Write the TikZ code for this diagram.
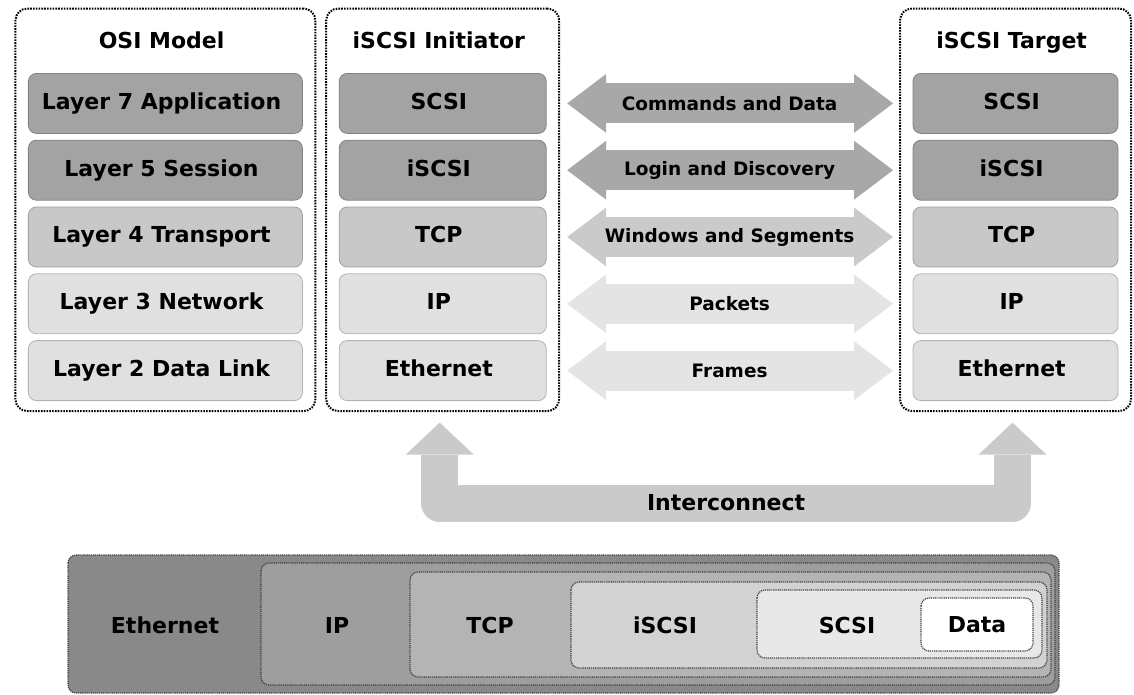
\documentclass[tikz,border=0pt]{standalone}
\usepackage{fontspec}
\setmainfont{DejaVu Sans}
\usetikzlibrary{matrix,fit,calc,arrows.meta}

\definecolor{rowdk}{RGB}{163,163,163}
\definecolor{rowmd}{RGB}{200,200,200}
\definecolor{rowlt}{RGB}{224,224,224}
\definecolor{arrdk}{RGB}{168,168,168}
\definecolor{arrmd}{RGB}{202,202,202}
\definecolor{arrlt}{RGB}{228,228,228}
\definecolor{ethc}{RGB}{137,137,137}
\definecolor{ipc}{RGB}{158,158,158}
\definecolor{tcpc}{RGB}{180,180,180}
\definecolor{iscsic}{RGB}{210,210,210}
\definecolor{scsic}{RGB}{232,232,232}

\tikzset{
  layer/.style={draw=#1!80!black, fill=#1, rounded corners=8pt, line width=0.8pt},
  ttl/.style={minimum height=48pt},
  stack/.style={draw=black, line width=2pt, dash pattern=on 1.6pt off 1.2pt,
                rounded corners=12pt, inner xsep=13pt, inner ysep=10.5pt},
  pipe/.style={draw=#1, line width=40pt, line cap=butt,
               arrows={Triangle[length=39pt,width=59pt,line width=0pt]-Triangle[length=39pt,width=59pt,line width=0pt]},
               shorten <=21pt, shorten >=20pt},
  lbl/.style={font=\fontsize{18.5}{21}\selectfont\bfseries},
  wire/.style={draw=arrmd, line width=37pt, line join=round,
               arrows={Triangle[length=32pt,width=68pt,line width=0pt]-Triangle[length=32pt,width=68pt,line width=0pt]}},
  enc/.style={draw=black!75, line width=1.2pt, dash pattern=on 1.2pt off 0.9pt, rounded corners=8pt}
}

\begin{document}
\begin{tikzpicture}[x=1pt, y=-1pt, font=\fontsize{22}{26}\selectfont\bfseries]
  \useasboundingbox (0,0) rectangle (1134,694);
  \matrix (stk) [matrix of nodes, ampersand replacement=\&, anchor=north west,
          inner sep=0pt, outer sep=0pt, row sep=6pt, column sep=36pt,
          nodes={minimum height=60pt, inner sep=0pt, align=center, anchor=center,
                 execute at begin node={\vphantom{Ly}}},
          column 1/.style={nodes={minimum width=274pt}},
          column 2/.style={nodes={minimum width=207pt}},
          column 3/.style={nodes={minimum width=205pt}}] at (28,19) {
    |[ttl]| OSI Model \& |[ttl]| iSCSI Initiator \&[330pt] |[ttl]| iSCSI Target \\
    |[layer=rowdk]| Layer 7 Application \& |[layer=rowdk]| SCSI \& |[layer=rowdk]| SCSI \\
    |[layer=rowdk]| Layer 5 Session \& |[layer=rowdk]| iSCSI \& |[layer=rowdk]| iSCSI \\
    |[layer=rowmd]| Layer 4 Transport \& |[layer=rowmd]| TCP \& |[layer=rowmd]| TCP \\
    |[layer=rowlt]| Layer 3 Network \& |[layer=rowlt]| IP \& |[layer=rowlt]| IP \\
    |[layer=rowlt]| Layer 2 Data Link \& |[layer=rowlt]| Ethernet \& |[layer=rowlt]| Ethernet \\
  };

  % dotted frames round the three stacks
  \node[stack, fit=(stk-1-1)(stk-6-1)] (osi) {};
  \node[stack, fit=(stk-1-2)(stk-6-2)] (ini) {};
  \node[stack, fit=(stk-1-3)(stk-6-3)] (tgt) {};

  % initiator <-> target
  \draw[pipe=arrdk] (stk-2-2) -- (stk-2-3) node[midway, lbl] (cmd) {Commands and Data};
  \draw[pipe=arrdk] (stk-3-2) -- (stk-3-3) node[midway, lbl] (login) {Login and Discovery};
  \draw[pipe=arrmd] (stk-4-2) -- (stk-4-3) node[midway, lbl] (seg) {Windows and Segments};
  \draw[pipe=arrlt] (stk-5-2) -- (stk-5-3) node[midway, lbl] (pkt) {Packets};
  \draw[pipe=arrlt] (stk-6-2) -- (stk-6-3) node[midway, lbl] (frm) {Frames};

  % interconnect
  \coordinate (ia) at ($(ini.south)+(-3,10.5)$);
  \coordinate (ta) at ($(tgt.south)+(-3,10.5)$);
  \draw[wire] (ia) -- ++(0,80.5) -| (ta) node[pos=0.25] (icn) {Interconnect};

  % encapsulation
  \foreach \xa/\ya/\xb/\yb/\col in {68/555/1059/693/ethc, 261/563/1055/685/ipc,
      410/572/1051/677/tcpc, 571/582/1047/668/iscsic, 757/590/1042/658/scsic,
      921/598/1033/651/white}
    \draw[enc, fill=\col] (\xa,\ya) rectangle (\xb,\yb);
  \node (peth) at (165,625) {Ethernet};
  \node (pip) at (337,625) {IP};
  \node (ptcp) at (490,625) {TCP};
  \node (piscsi) at (665,625) {iSCSI};
  \node (pscsi) at (847,625) {SCSI};
  \node (pdata) at (977,625) {Data};
\end{tikzpicture}
\end{document}
